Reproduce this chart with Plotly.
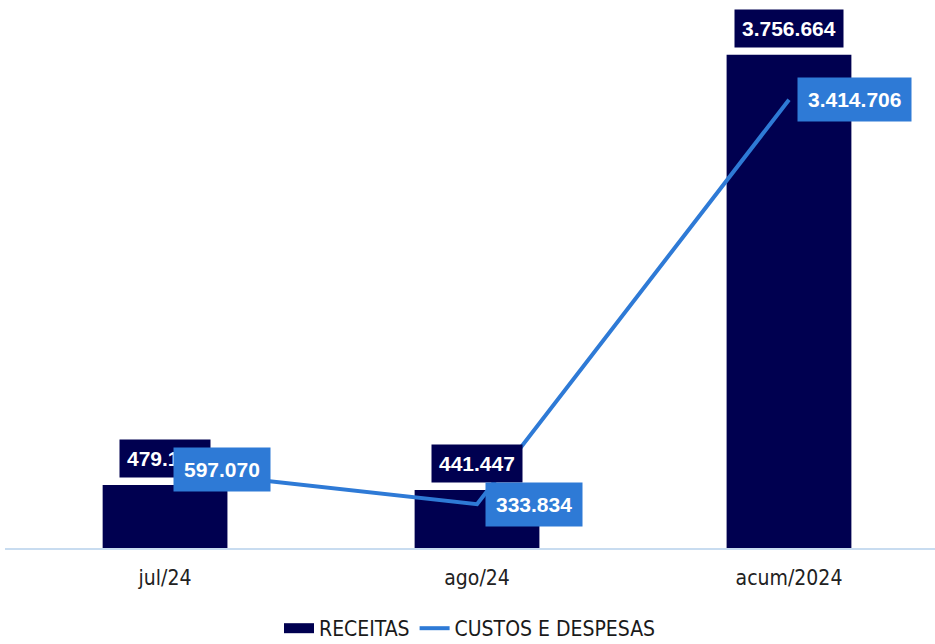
import plotly.graph_objects as go

categories = ["jul/24", "ago/24", "acum/2024"]
receitas = [479150, 441447, 3756664]
custos = [597070, 333834, 3414706]

def fmt(v):
    return f"{v:,}".replace(",", ".")

NAVY = "#000050"
BLUE = "#2e7ad6"
NARROW = "Liberation Sans Narrow, DejaVu Sans Condensed, Arial Narrow"

fig = go.Figure()
fig.add_trace(go.Bar(x=categories, y=receitas, name="RECEITAS", marker_color=NAVY,
                     width=0.4, marker_line_width=0, showlegend=False, legendgroup="r"))
# legend proxy for the bars (wide rectangle symbol)
fig.add_trace(go.Scatter(x=[None], y=[None], name="RECEITAS", mode="lines", legendgroup="r",
                         line=dict(color=NAVY, width=12)))
fig.add_trace(go.Scatter(x=categories, y=custos, name="CUSTOS E DESPESAS", mode="lines",
                         line=dict(color=BLUE, width=4)))

annotations = []
for c, v in zip(categories, receitas):
    annotations.append(dict(x=c, y=v, text=f"<b>{fmt(v)}</b>", showarrow=False,
                            yanchor="bottom", yshift=7, bgcolor=NAVY, borderpad=7,
                            font=dict(color="white", size=21, family="Liberation Sans, Arial")))
for c, v in zip(categories, custos):
    annotations.append(dict(x=c, y=v, text=f"<b>{fmt(v)}</b>", showarrow=False,
                            xanchor="left", yanchor="middle", xshift=8, bgcolor=BLUE,
                            borderpad=10,
                            font=dict(color="white", size=21, family="Liberation Sans, Arial")))

fig.update_layout(
    width=935, height=644,
    margin=dict(l=5, r=0, t=20, b=96, autoexpand=False),
    plot_bgcolor="white", paper_bgcolor="white",
    annotations=annotations,
    showlegend=True,
    legend=dict(orientation="h", x=0.5, xanchor="center", yref="container",
                y=0.024, yanchor="middle",
                font=dict(size=21, color="#1a1a1a", family=NARROW)),
    xaxis=dict(showline=True, linecolor="#c8dcf0", linewidth=2, showgrid=False,
               ticks="", ticklabelstandoff=10, range=[-0.513, 2.468],
               tickfont=dict(size=21, color="#222222", family=NARROW)),
    yaxis=dict(visible=False, range=[0, 4022000], showgrid=False, zeroline=False),
)

fig.write_html("out.html", config={"displayModeBar": False})
with open("out.html", "r", encoding="utf-8") as f:
    html = f.read()
html = html.replace("<body>", '<body style="margin:0;overflow:hidden">', 1)
with open("out.html", "w", encoding="utf-8") as f:
    f.write(html)
